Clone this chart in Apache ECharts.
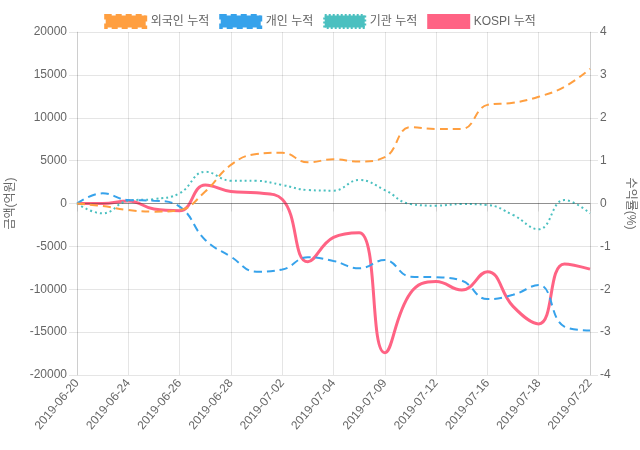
<!DOCTYPE html>
<html>
<head>
<meta charset="utf-8">
<script src="https://cdn.jsdelivr.net/npm/echarts@6/dist/echarts.min.js"></script>
<style>
  html, body { margin: 0; padding: 0; background: #fff; }
  #chart { width: 640px; height: 450px; }
</style>
</head>
<body>
<div id="chart"></div>
<script>
// 거래일
var dates = ['2019-06-20', '2019-06-21', '2019-06-24', '2019-06-25', '2019-06-26', '2019-06-27',
  '2019-06-28', '2019-07-01', '2019-07-02', '2019-07-03', '2019-07-04', '2019-07-05',
  '2019-07-09', '2019-07-10', '2019-07-12', '2019-07-15', '2019-07-16', '2019-07-17',
  '2019-07-18', '2019-07-19', '2019-07-22'];

// 누적 순매수 (억원)
var foreign = [0, -300, -760, -950, -760, 1400, 4500, 5770, 5920, 4800, 5150, 4900,
  5400, 8900, 8700, 8700, 11500, 11750, 12450, 13600, 15700];
var personal = [0, 1190, 400, 330, -370, -4250, -6200, -7950, -7700, -6270, -6700, -7550,
  -6600, -8530, -8600, -9000, -11150, -10650, -9500, -14350, -14820];
var institution = [0, -1150, 330, 520, 1190, 3700, 2660, 2640, 2160, 1570, 1500, 2740,
  1570, -60, -250, -60, -170, -1340, -3010, 400, -1150];

// KOSPI 누적 수익률 (%)
var kospi = [0, 0, 0.06, -0.13, -0.17, 0.43, 0.28, 0.25, 0.1, -1.36, -0.79, -0.68,
  -3.48, -2.09, -1.82, -2.02, -1.59, -2.4, -2.81, -1.41, -1.53];

var leftTicks = { min: -20000, max: 20000, interval: 5000 };
var rightTicks = { min: -4, max: 4, interval: 1 };

var chart = echarts.init(document.getElementById('chart'));
var font = 'Liberation Sans, Arial, "Noto Sans CJK KR", sans-serif';
var gridColor = 'rgba(0,0,0,0.1)';

var option = {
  animation: false,
  textStyle: { fontFamily: font, color: '#666', fontSize: 12 },
  legend: {
    top: 9,
    left: 'center',
    itemWidth: 40,
    itemHeight: 12,
    itemGap: 10,
    icon: 'rect',
    textStyle: { color: '#666', fontSize: 12, fontFamily: font },
    data: [
      { name: '외국인 누적', itemStyle: { color: '#ff9f40', borderColor: '#ff9f40', borderWidth: 3, borderType: [6, 4] } },
      { name: '개인 누적', itemStyle: { color: '#36a2eb', borderColor: '#36a2eb', borderWidth: 3, borderType: [6, 4] } },
      { name: '기관 누적', itemStyle: { color: '#4bc0c0', borderColor: '#4bc0c0', borderWidth: 3, borderType: [2, 2] } },
      { name: 'KOSPI 누적', itemStyle: { color: '#ff6384', borderColor: '#ff6384', borderWidth: 3 } }
    ]
  },
  grid: { left: 77, right: 50, top: 32, bottom: 75, containLabel: false, outerBoundsMode: 'none' },
  xAxis: {
    type: 'category',
    data: dates,
    boundaryGap: false,
    axisLine: { show: true, lineStyle: { color: gridColor } },
    axisTick: { show: true, interval: 1, length: 8, lineStyle: { color: gridColor } },
    axisLabel: { interval: 1, rotate: 50, color: '#666', fontSize: 12, margin: 6 },
    splitLine: { show: true, interval: 1, lineStyle: { color: gridColor } }
  },
  yAxis: [
    {
      type: 'value',
      min: leftTicks.min,
      max: leftTicks.max,
      interval: leftTicks.interval,
      name: '금액(억원)',
      nameLocation: 'middle',
      nameRotate: 90,
      nameGap: 60,
      nameTextStyle: { color: '#666', fontSize: 12 },
      axisLine: { show: true, lineStyle: { color: gridColor } },
      axisTick: { show: true, length: 8, lineStyle: { color: gridColor } },
      axisLabel: { color: '#666', fontSize: 12, margin: 10, formatter: function (v) { return String(v); } },
      splitLine: { show: true, lineStyle: { color: gridColor } }
    },
    {
      type: 'value',
      min: rightTicks.min,
      max: rightTicks.max,
      interval: rightTicks.interval,
      name: '수익률(%)',
      nameLocation: 'middle',
      nameRotate: -90,
      nameGap: 34,
      nameTextStyle: { color: '#666', fontSize: 12 },
      axisLine: { show: true, lineStyle: { color: gridColor } },
      axisTick: { show: true, length: 8, lineStyle: { color: gridColor } },
      axisLabel: { color: '#666', fontSize: 12, margin: 10, formatter: function (v) { return String(v); } },
      splitLine: { show: false }
    }
  ],
  series: [
    {
      name: '외국인 누적', type: 'line', yAxisIndex: 0, data: foreign,
      smooth: 0.45, showSymbol: false, z: 5,
      lineStyle: { color: '#ff9f40', width: 2, type: [8, 5] },
      itemStyle: { color: '#ff9f40' },
      markLine: {
        silent: true, symbol: 'none', label: { show: false },
        lineStyle: { color: 'rgba(0,0,0,0.3)', width: 1, type: 'solid' },
        data: [{ yAxis: 0 }]
      }
    },
    {
      name: '개인 누적', type: 'line', yAxisIndex: 0, data: personal,
      smooth: 0.45, showSymbol: false, z: 4,
      lineStyle: { color: '#36a2eb', width: 2, type: [8, 5] },
      itemStyle: { color: '#36a2eb' }
    },
    {
      name: '기관 누적', type: 'line', yAxisIndex: 0, data: institution,
      smooth: 0.45, showSymbol: false, z: 3,
      lineStyle: { color: '#4bc0c0', width: 2, type: [2, 3] },
      itemStyle: { color: '#4bc0c0' }
    },
    {
      name: 'KOSPI 누적', type: 'line', yAxisIndex: 1, data: kospi,
      smooth: 0.45, showSymbol: false, z: 2,
      lineStyle: { color: '#ff6384', width: 3 },
      itemStyle: { color: '#ff6384' }
    }
  ]
};

chart.setOption(option);
</script>
</body>
</html>
